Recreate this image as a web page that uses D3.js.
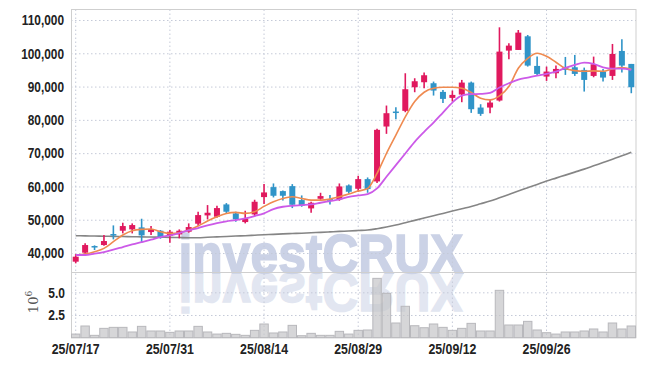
<!DOCTYPE html>
<html>
<head>
<meta charset="utf-8">
<script src="https://cdn.jsdelivr.net/npm/d3@7"></script>
<style>
  body { margin: 0; background: #fff; }
  svg text { font-family: "Liberation Sans", Arial, sans-serif; }
</style>
</head>
<body>
<div id="chart"></div>
<script>
const dates = ["2025-07-17","2025-07-18","2025-07-21","2025-07-22","2025-07-23","2025-07-24","2025-07-25",
  "2025-07-28","2025-07-29","2025-07-30","2025-07-31","2025-08-01","2025-08-04","2025-08-05","2025-08-06",
  "2025-08-07","2025-08-08","2025-08-11","2025-08-12","2025-08-13","2025-08-14","2025-08-18","2025-08-19",
  "2025-08-20","2025-08-21","2025-08-22","2025-08-25","2025-08-26","2025-08-27","2025-08-28","2025-08-29",
  "2025-09-01","2025-09-02","2025-09-03","2025-09-04","2025-09-05","2025-09-08","2025-09-09","2025-09-10",
  "2025-09-11","2025-09-12","2025-09-15","2025-09-16","2025-09-17","2025-09-18","2025-09-19","2025-09-22",
  "2025-09-23","2025-09-24","2025-09-25","2025-09-26","2025-09-29","2025-09-30","2025-10-01","2025-10-02",
  "2025-10-10","2025-10-13","2025-10-14","2025-10-15","2025-10-16"];

const open = [37400,40100,42100,42400,45700,46700,47100,47700,46300,46700,45200,45600,46400,48800,51300,
  50900,54600,51900,49300,51600,56800,59800,58600,60100,55900,53400,56300,56200,56100,60300,59300,62200,
  61500,78000,82500,82700,89800,91300,91000,88400,86600,87600,91200,83700,83700,85800,100800,101000,105100,
  96200,93000,94000,95800,95800,95000,93200,94500,93200,100700,96800];
const high = [39700,42900,42300,45400,48300,49100,48900,50300,48100,46900,46900,47100,48900,52400,54400,
  54200,55000,52400,52700,56000,60700,60900,58800,60700,57300,55400,58100,57400,60900,60600,63200,62700,
  77300,84300,83800,94000,92500,94200,91500,89000,88800,92000,91500,84700,86200,107800,103000,107000,105500,
  99000,96000,96300,98900,99500,95700,99000,95300,102800,104200,96800];
const low = [36900,39700,40900,42200,44100,45900,45900,43100,45400,44300,43100,44400,46100,48200,50100,
  50600,52000,49400,48900,51000,54700,56700,55800,53500,53900,52100,55800,54600,55700,57800,58400,58100,
  61000,75800,80200,82300,88300,89500,87300,85100,85500,85300,82100,81200,82000,85500,98200,101000,96000,
  93200,91700,92500,93500,93200,88500,92800,91500,92000,94200,88000];
const close = [38900,42400,41900,43600,45600,48100,48400,45300,47200,44700,46400,46700,47800,51400,52100,
  53500,52400,50100,50400,55400,58200,57200,57200,54500,54200,55100,57100,55700,60000,58400,62200,59200,
  77000,82000,82300,89200,91600,93400,88800,86300,87500,91200,83200,81800,85200,100500,102300,106200,96300,
  93800,94500,95300,95000,93800,92000,96700,92700,99800,96300,89800];

// trading volume, millions of shares
const volume = [0.40,1.29,0.26,1.03,1.14,1.14,0.63,1.25,0.74,0.74,0.59,0.74,0.74,1.25,0.63,0.40,0.48,0.37,
  0.26,0.81,1.51,0.52,0.63,1.36,0.22,0.48,0.26,0.26,0.70,0.40,0.81,0.85,6.54,4.89,1.62,3.46,1.32,1.10,1.51,
  1.14,0.81,1.03,1.58,0.74,0.74,5.22,1.40,1.40,1.80,0.85,0.55,0.40,0.63,0.63,0.74,0.96,0.63,1.62,0.96,1.29];

// moving averages
const maShort = [39400,39700,40400,41400,43400,45400,46700,47100,47200,46400,45900,46100,46900,48100,49600,
  50900,51900,52200,51900,52400,54000,55400,56400,56900,56400,55900,55900,56200,56900,57700,58600,59400,
  63900,69900,75400,80900,85500,88300,89500,89800,89800,89500,88200,86500,86000,87200,90000,95500,98500,
  100000,99100,97300,95400,94800,94600,94700,94600,95300,95700,95200];
const maMid = [39400,39400,39800,40300,41000,41800,42600,43300,44000,44800,45300,46000,46800,47500,48300,
  49000,49500,49900,50400,51100,51900,53200,53900,54200,54400,54600,55100,55600,56100,56900,57300,57700,
  59400,62900,66400,69900,73400,76400,79200,82200,85200,87300,87700,87800,88100,89700,91000,92100,92700,
  93300,93800,94500,95600,96500,97200,96800,95800,95400,95400,95000];
const maLong = [45200,45150,45100,45050,45000,44950,44900,44850,44800,44750,44700,44650,44600,44600,44750,
  44850,44950,45100,45200,45350,45500,45600,45750,45850,45950,46100,46200,46350,46500,46600,46750,46900,
  47300,47800,48400,49100,49800,50500,51200,51900,52600,53300,54000,54800,55600,56600,57600,58600,59600,
  60600,61600,62500,63400,64300,65200,66200,67200,68200,69200,70300];

const priceTicks = [40000,50000,60000,70000,80000,90000,100000,110000];
const volumeTicks = [2.5, 5.0];
const dateTicks = ["2025-07-17","2025-07-31","2025-08-14","2025-08-29","2025-09-12","2025-09-26"];

const upColor = "#e0195e";
const downColor = "#3094c8";
const shortColor = "#ef8a50";
const midColor = "#cc5ae8";
const longColor = "#858585";
const gridColor = "#c5cad8";
const frameColor = "#cfcfcf";

const left = 71, right = 636, priceTop = 9.5, priceBottom = 272, volBottom = 337.7;

var svg = d3.select("#chart").append("svg").attr("width", 645).attr("height", 366);

const x = d3.scaleBand().domain(dates).range([left, right]).padding(0);
const bw = x.bandwidth();
const cx = d => x(d) + bw / 2;
const y = d3.scaleLinear().domain([34300, 113150]).range([priceBottom, priceTop]);
const yv = d3.scaleLinear().domain([0, 7.24]).range([volBottom, priceBottom]);

const parse = d3.timeParse("%Y-%m-%d");
const fmt = d3.timeFormat("%y/%m/%d");

// squeeze a label to look like the narrow font of the original
function narrow(sel, k) {
  sel.each(function () {
    const w = this.getComputedTextLength();
    d3.select(this).attr("textLength", w * k).attr("lengthAdjust", "spacingAndGlyphs");
  });
}

//WATERMARK
svg.append("text")
    .attr("id", "wm")
    .attr("x", 321).attr("y", 273)
    .attr("text-anchor", "middle")
    .attr("textLength", 285).attr("lengthAdjust", "spacingAndGlyphs")
    .style("font-weight", "bold").style("font-size", "56px")
    .attr("fill", "#cbd2e6")
    .attr("stroke", "#cbd2e6").attr("stroke-width", 1.5)
    .text("investCRUX");
svg.append("use")
    .attr("href", "#wm")
    .attr("transform", "translate(0,546) scale(1,-1)")
    .attr("opacity", 0.55);

//GRID
svg.append("g")
    .attr("transform", `translate(${left},0)`)
    .call(d3.axisLeft(y).tickValues(priceTicks).tickSize(-(right - left)).tickFormat(""))
    .call(g => g.select(".domain").remove())
    .selectAll("line").attr("stroke", gridColor).attr("stroke-dasharray", "1.5,2.5");
svg.append("g")
    .attr("transform", `translate(${left},0)`)
    .call(d3.axisLeft(yv).tickValues(volumeTicks).tickSize(-(right - left)).tickFormat(""))
    .call(g => g.select(".domain").remove())
    .selectAll("line").attr("stroke", gridColor).attr("stroke-dasharray", "1.5,2.5");
svg.append("g")
    .selectAll("line").data(dateTicks).join("line")
    .attr("x1", d => cx(d)).attr("x2", d => cx(d))
    .attr("y1", priceTop).attr("y2", volBottom)
    .attr("stroke", gridColor).attr("stroke-dasharray", "1.5,2.5");

//FRAME
svg.append("rect")
    .attr("x", left + 0.5).attr("y", priceTop)
    .attr("width", right - left - 0.5).attr("height", volBottom - priceTop)
    .attr("fill", "none").attr("stroke", frameColor);
svg.append("line")
    .attr("x1", left).attr("x2", right).attr("y1", priceBottom + 0.5).attr("y2", priceBottom + 0.5)
    .attr("stroke", frameColor);

//VOLUME
svg.append("g")
    .selectAll("rect").data(dates).join("rect")
    .attr("x", d => x(d) + 0.5)
    .attr("width", bw - 1)
    .attr("y", (d, i) => yv(volume[i]))
    .attr("height", (d, i) => volBottom - yv(volume[i]))
    .attr("fill", "#c4c4c8").attr("fill-opacity", 0.7)
    .attr("stroke", "#b8b8bc").attr("stroke-width", 1);

//MOVING AVERAGES
const line = d3.line().x(d => cx(d[0])).y(d => y(d[1])).curve(d3.curveMonotoneX);
svg.append("path")
    .attr("d", line(dates.map((d, i) => [d, maLong[i]])))
    .attr("fill", "none").attr("stroke", longColor).attr("stroke-width", 1.6);

//CANDLES
const candles = svg.append("g");
candles.selectAll("line").data(dates).join("line")
    .attr("x1", d => cx(d)).attr("x2", d => cx(d))
    .attr("y1", (d, i) => y(high[i])).attr("y2", (d, i) => y(low[i]))
    .attr("stroke", (d, i) => close[i] >= open[i] ? upColor : downColor)
    .attr("stroke-width", 1.6);
candles.selectAll("rect").data(dates).join("rect")
    .attr("x", d => cx(d) - 3)
    .attr("width", 6)
    .attr("y", (d, i) => y(Math.max(open[i], close[i])))
    .attr("height", (d, i) => Math.max(1.5, Math.abs(y(open[i]) - y(close[i]))))
    .attr("fill", (d, i) => close[i] >= open[i] ? upColor : downColor);

svg.append("path")
    .attr("d", line(dates.map((d, i) => [d, maShort[i]])))
    .attr("fill", "none").attr("stroke", shortColor).attr("stroke-width", 1.6);
svg.append("path")
    .attr("d", line(dates.map((d, i) => [d, maMid[i]])))
    .attr("fill", "none").attr("stroke", midColor).attr("stroke-width", 1.8);

//AXES
svg.append("g")
    .attr("transform", `translate(${left},0)`)
    .call(d3.axisLeft(y).tickValues(priceTicks).tickSize(0).tickPadding(7).tickFormat(d3.format(",")))
    .call(g => g.select(".domain").remove())
    .selectAll("text").attr("fill", "#222").style("font-size", "15px").style("font-weight", "bold")
    .call(narrow, 0.79);
svg.append("g")
    .attr("transform", `translate(${left},0)`)
    .call(d3.axisLeft(yv).tickValues(volumeTicks).tickSize(0).tickPadding(6).tickFormat(d3.format(".1f")))
    .call(g => g.select(".domain").remove())
    .selectAll("text").attr("fill", "#222").style("font-size", "15px").style("font-weight", "bold")
    .call(narrow, 0.8);
svg.append("g")
    .attr("transform", `translate(0,${volBottom})`)
    .call(d3.axisBottom(x).tickValues(dateTicks).tickSize(0).tickPadding(6).tickFormat(d => fmt(parse(d))))
    .call(g => g.select(".domain").remove())
    .selectAll("text").attr("fill", "#222").style("font-size", "14px").style("font-weight", "bold")
    .call(narrow, 0.88);

// 10^6 unit label
const unit = svg.append("text")
    .attr("transform", "translate(38,302) rotate(-90)")
    .attr("text-anchor", "middle")
    .attr("fill", "#555")
    .style("font-family", "'DejaVu Serif', serif")
    .style("font-size", "13px");
unit.append("tspan").text("10");
unit.append("tspan").attr("dy", -6).style("font-size", "9px").text("6");
</script>
</body>
</html>
